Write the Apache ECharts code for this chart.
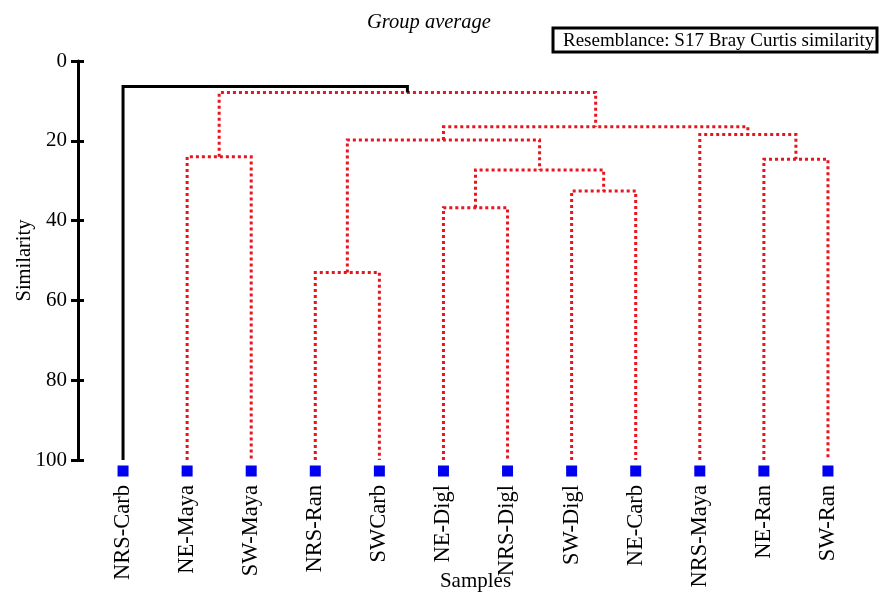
<!DOCTYPE html>
<html>
<head>
<meta charset="utf-8">
<script src="https://cdn.jsdelivr.net/npm/echarts@6/dist/echarts.min.js"></script>
<style>html,body{margin:0;padding:0;background:#fff}#c{width:882px;height:594px}</style>
</head>
<body>
<div id="c"></div>
<script>
// ---- data ----
var samples = ['NRS-Carb','NE-Maya','SW-Maya','NRS-Ran','SWCarb','NE-Digl','NRS-Digl','SW-Digl','NE-Carb','NRS-Maya','NE-Ran','SW-Ran'];
// merges: node id = samples.length + merge index; children refer to leaf or node ids
var mergeLeft  = [1, 3, 5, 7, 10, 14, 13, 9, 18, 12, 0];
var mergeRight = [2, 4, 6, 8, 11, 15, 17, 16, 19, 20, 21];
var mergeSimilarity = [24.0, 53.0, 36.8, 32.6, 24.6, 27.3, 19.8, 18.4, 16.5, 7.9, 6.4];
var mergeSignificant = [false, false, false, false, false, false, false, false, false, false, true];

// ---- build links ----
var n = samples.length;
var pos = [], hgt = [];
for (var i = 0; i < n; i++) { pos[i] = i; hgt[i] = 100; }
var links = [];
for (var m = 0; m < mergeLeft.length; m++) {
  var a = mergeLeft[m], b = mergeRight[m], h = mergeSimilarity[m];
  links.push([pos[a], hgt[a], pos[b], hgt[b], h, mergeSignificant[m] ? 1 : 0]);
  pos[n + m] = (pos[a] + pos[b]) / 2;
  hgt[n + m] = h;
}

var serif = 'Liberation Serif';
var chart = echarts.init(document.getElementById('c'));
chart.setOption({
  animation: false,
  title: {
    text: 'Group average', left: 362, top: 8,
    textStyle: { fontFamily: serif, fontStyle: 'italic', fontWeight: 'normal', fontSize: 20.5, color: '#000' }
  },
  graphic: [
    { type: 'rect', shape: { x: 553, y: 28, width: 324, height: 24 }, style: { fill: '#fff', stroke: '#000', lineWidth: 3 } },
    { type: 'text', x: 563, y: 41, style: { text: 'Resemblance: S17 Bray Curtis similarity', font: '19px "Liberation Serif"', fill: '#000', verticalAlign: 'middle' } }
  ],
  grid: { left: 91, right: 22, top: 61, bottom: 134, containLabel: false, outerBoundsMode: 'none' },
  xAxis: [
    {
      type: 'category', data: samples, position: 'bottom',
      axisLine: { show: false }, axisTick: { show: false },
      axisLabel: { rotate: 90, margin: 25, fontFamily: serif, fontSize: 22.5, color: '#000', interval: 0 },
      name: 'Samples', nameLocation: 'middle', nameGap: 111, nameMoveOverlap: false,
      nameTextStyle: { fontFamily: serif, fontSize: 21, color: '#000' }
    },
    { type: 'value', min: -0.5, max: 11.5, show: false }
  ],
  yAxis: [
    {
      type: 'value', position: 'left', inverse: true, min: 0, max: 100, interval: 20, offset: 13,
      axisLine: { show: true, onZero: false, lineStyle: { color: '#000', width: 3 } },
      axisTick: { show: true, length: 7, lineStyle: { color: '#000', width: 3 } },
      axisLabel: { margin: 11, fontFamily: serif, fontSize: 21, color: '#000' },
      splitLine: { show: false },
      name: 'Similarity', nameLocation: 'middle', nameGap: 43, nameMoveOverlap: false,
      nameTextStyle: { fontFamily: serif, fontSize: 20.5, color: '#000' }
    },
    {
      type: 'value', position: 'left', inverse: true, min: 0, max: 100, interval: 20, offset: 13,
      axisLine: { show: false, onZero: false },
      axisTick: { show: true, inside: true, length: 6, lineStyle: { color: '#000', width: 3 } },
      axisLabel: { show: false }, splitLine: { show: false }
    }
  ],
  series: [
    {
      type: 'custom', xAxisIndex: 1, yAxisIndex: 0, clip: false,
      data: links,
      renderItem: function (params, api) {
        var p1 = api.coord([api.value(0), api.value(1)]);
        var p2 = api.coord([api.value(0), api.value(4)]);
        var p3 = api.coord([api.value(2), api.value(4)]);
        var p4 = api.coord([api.value(2), api.value(3)]);
        var sig = api.value(5) === 1;
        return {
          type: 'polyline',
          shape: { points: [p1, p2, p3, p4] },
          style: sig ? { stroke: '#000', lineWidth: 3, fill: null, lineJoin: 'miter' }
                     : { stroke: '#e8141e', lineWidth: 3, fill: null, lineDash: [3, 3], lineCap: 'butt' }
        };
      }
    },
    {
      type: 'custom', xAxisIndex: 1, yAxisIndex: 0, clip: false,
      data: samples.map(function (s, i) { return [i, 100]; }),
      renderItem: function (params, api) {
        var p = api.coord([api.value(0), api.value(1)]);
        return { type: 'rect', shape: { x: p[0] - 5.5, y: p[1] + 5.5, width: 11, height: 11 }, style: { fill: '#0000f0' } };
      }
    }
  ]
});
</script>
</body>
</html>
